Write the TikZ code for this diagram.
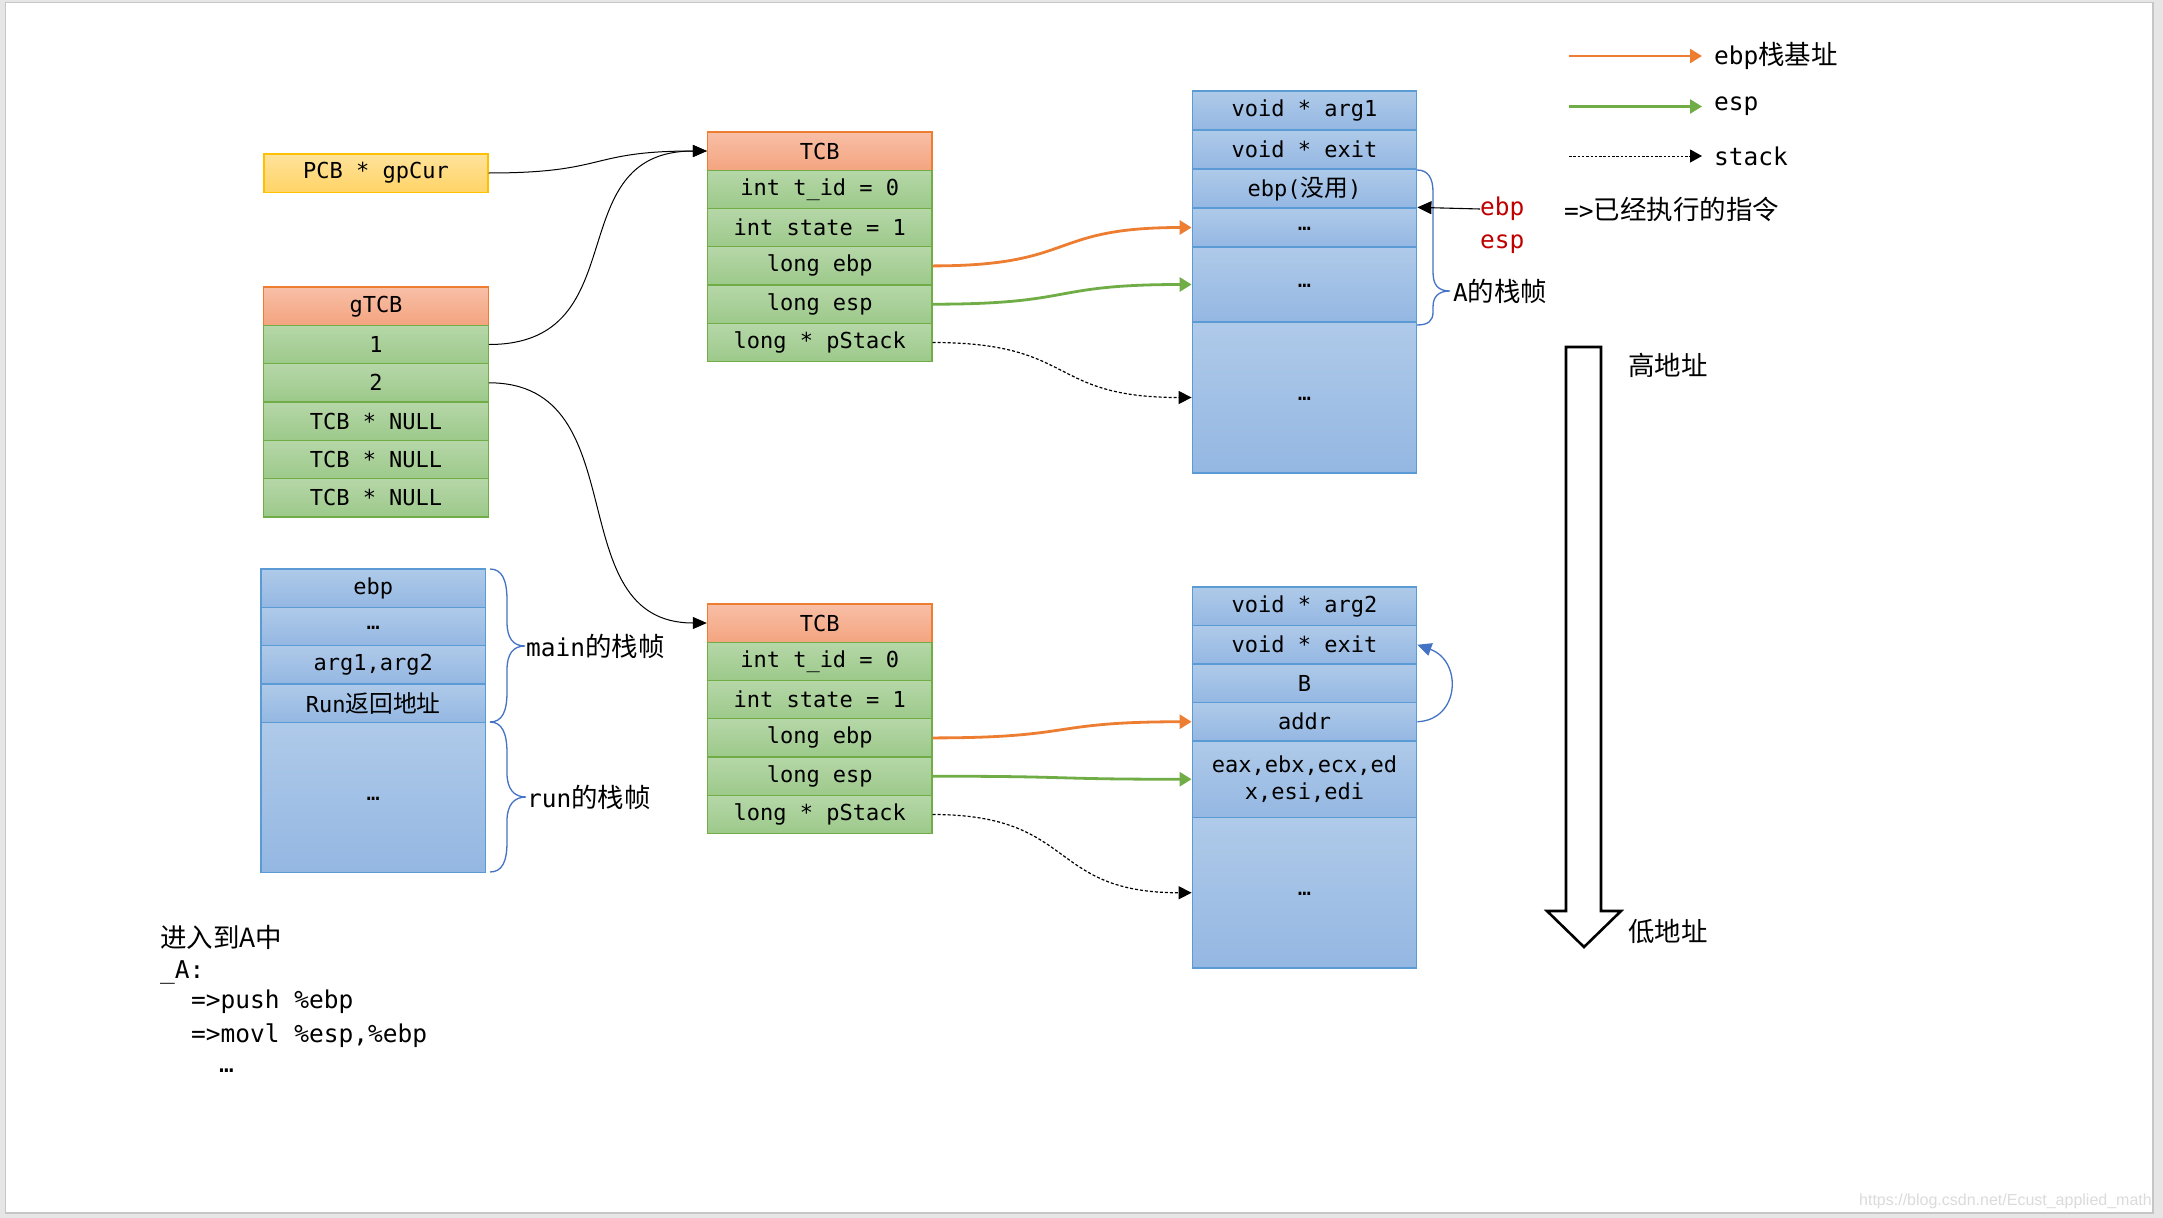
\documentclass[tikz,border=0pt]{standalone}
\usepackage{fontspec}
\setmainfont{DejaVu Sans Mono}
\newfontfamily\cjk[Scale=1.08]{Noto Sans CJK SC}
\newfontfamily\wmfont{Liberation Sans}
\usetikzlibrary{arrows.meta}
\newcommand\lowell{\raisebox{-3pt}[0pt][0pt]{…}}
\definecolor{bggray}{HTML}{E6E6E6}
\definecolor{slideb}{HTML}{C6C6C6}
\definecolor{hdrD}{HTML}{ED7D31}
\definecolor{hdrT}{HTML}{F8BFA7}
\definecolor{hdrB}{HTML}{F4A47F}
\definecolor{grnD}{HTML}{70AD47}
\definecolor{grnT}{HTML}{B6D7A8}
\definecolor{grnB}{HTML}{9CC98A}
\definecolor{bluD}{HTML}{5B9BD5}
\definecolor{bluT}{HTML}{AFCAE9}
\definecolor{bluB}{HTML}{94B7E2}
\definecolor{yelD}{HTML}{FFC000}
\definecolor{yelT}{HTML}{FFE39C}
\definecolor{yelB}{HTML}{FFD466}
\definecolor{redc}{HTML}{C00000}
\definecolor{bracec}{HTML}{4472C4}
\definecolor{orc}{HTML}{ED7D31}
\definecolor{grc}{HTML}{70AD47}
\begin{document}
\begin{tikzpicture}[x=1pt,y=-1pt,
  cellbase/.style={draw, line width=1.3pt, minimum width=224.5pt, minimum height=38.3pt,
    inner sep=0pt, align=center, text=black, font=\fontsize{22}{27}\selectfont},
  hdr/.style={cellbase, draw=hdrD, top color=hdrT, bottom color=hdrB},
  grn/.style={cellbase, draw=grnD, top color=grnT, bottom color=grnB},
  blu/.style={cellbase, draw=bluD, top color=bluT, bottom color=bluB},
  yel/.style={cellbase, draw=yelD, top color=yelT, bottom color=yelB},
  lbl/.style={inner sep=0pt, anchor=west, font=\fontsize{24.5}{29}\selectfont},
  conn/.style={line width=1pt, -{Triangle[length=14pt,width=12pt]}},
  orarrow/.style={draw=orc, line width=2.8pt, -{Triangle[length=12pt,width=14pt]}, color=orc},
  grarrow/.style={draw=grc, line width=2.8pt, -{Triangle[length=12pt,width=14pt]}, color=grc},
  dasharrow/.style={line width=1.2pt, dash pattern=on 3pt off 2pt, -{Triangle[length=13pt,width=13pt]}},
  bracepath/.style={draw=bracec, line width=1.3pt},
]
\useasboundingbox (0,0) rectangle (2163,1218);
\fill[bggray] (0,0) rectangle (2163,1218);
\draw[slideb, line width=1.5pt, fill=white] (5.5,2.5) rectangle (2153,1213);

% PCB
\node[yel, minimum width=224pt] (pcb) at (376,173) {PCB * gpCur};

% gTCB
\node[hdr] (g0) at (376,306.2) {gTCB};
\node[grn] (g1) at (376,344.5) {1};
\node[grn] (g2) at (376,382.8) {2};
\node[grn] (g3) at (376,421.1) {TCB * NULL};
\node[grn] (g4) at (376,459.4) {TCB * NULL};
\node[grn] (g5) at (376,497.7) {TCB * NULL};

% TCB 1
\node[hdr] (t1h) at (819.75,151) {TCB};
\node[grn] (t1a) at (819.75,189.3) {int t\_id = 0};
\node[grn] (t1b) at (819.75,227.6) {int state = 1};
\node[grn] (t1c) at (819.75,265.9) {long ebp};
\node[grn] (t1d) at (819.75,304.2) {long esp};
\node[grn] (t1e) at (819.75,342.5) {long * pStack};

% TCB 2
\node[hdr] (t2h) at (819.75,623) {TCB};
\node[grn] (t2a) at (819.75,661.3) {int t\_id = 0};
\node[grn] (t2b) at (819.75,699.6) {int state = 1};
\node[grn] (t2c) at (819.75,737.9) {long ebp};
\node[grn] (t2d) at (819.75,776.2) {long esp};
\node[grn] (t2e) at (819.75,814.5) {long * pStack};

% Stack 1
\node[blu, minimum height=39pt] (s1a) at (1304.5,110.5) {void * arg1};
\node[blu, minimum height=39pt] (s1b) at (1304.5,149.5) {void * exit};
\node[blu, minimum height=39pt] (s1c) at (1304.5,188.5) {ebp({\cjk 没用})};
\node[blu, minimum height=39pt] (s1d) at (1304.5,227.5) {\lowell};
\node[blu, minimum height=75pt] (s1e) at (1304.5,284.5) {\lowell};
\node[blu, minimum height=151pt] (s1f) at (1304.5,397.5) {\lowell};

% Stack 2
\node[blu, minimum height=38.5pt] (s2a) at (1304.5,606.25) {void * arg2};
\node[blu, minimum height=38.5pt] (s2b) at (1304.5,644.75) {void * exit};
\node[blu, minimum height=38.5pt] (s2c) at (1304.5,683.25) {B};
\node[blu, minimum height=38.5pt] (s2d) at (1304.5,721.75) {addr};
\node[blu, minimum height=76.5pt] (s2e) at (1304.5,779.25) {eax,ebx,ecx,ed\\x,esi,edi};
\node[blu, minimum height=150.5pt] (s2f) at (1304.5,892.75) {\lowell};

% main / run stack
\node[blu] (m1) at (373.3,588.2) {ebp};
\node[blu] (m2) at (373.3,626.5) {\lowell};
\node[blu] (m3) at (373.3,664.8) {arg1,arg2};
\node[blu] (m4) at (373.3,703.1) {Run{\cjk 返回地址}};
\node[blu, minimum height=150pt] (m5) at (373.3,797.3) {\lowell};

% black connectors
\draw[conn] (pcb.east) .. controls +(120,0) and +(-120,0) .. (t1h.west);
\draw[conn] (g1.east) .. controls +(150,0) and +(-150,0) .. (t1h.west);
\draw[conn] (g2.east) .. controls +(150,0) and +(-150,0) .. (t2h.west);

% ebp / esp / stack connectors
\draw[orarrow] (t1c.east) .. controls +(145,0) and +(-145,0) .. (s1d.west);
\draw[grarrow] (t1d.east) .. controls +(145,0) and +(-145,0) .. (s1e.west);
\draw[dasharrow] (t1e.east) .. controls +(145,0) and +(-145,0) .. (s1f.west);
\draw[orarrow] (t2c.east) .. controls +(145,0) and +(-145,0) .. (s2d.west);
\draw[grarrow] (t2d.east) .. controls +(145,0) and +(-145,0) .. (s2e.west);
\draw[dasharrow] (t2e.east) .. controls +(145,0) and +(-145,0) .. (s2f.west);

% blue return arrow
\draw[draw=bracec, line width=1.3pt, -{Triangle[length=14pt,width=13pt]}, color=bracec]
  (s2d.east) .. controls +(43,-2) and +(45,16) .. (s2b.east);

% braces
\draw[bracepath] (1417,170) .. controls (1428,170) and (1433,178) .. (1433,192)
  -- (1433,272) .. controls (1433,285) and (1438,291) .. (1450,291)
  .. controls (1438,291) and (1433,297) .. (1433,307)
  -- (1433,312) .. controls (1433,321) and (1428,325) .. (1417,325);
\node[lbl] (aframe) at (1453,291) {A{\cjk 的栈帧}};

\draw[bracepath] (490,569) .. controls (502,569) and (507,580) .. (507,600)
  -- (507,622) .. controls (507,638) and (513,646) .. (525,646)
  .. controls (513,646) and (507,654) .. (507,670)
  -- (507,692) .. controls (507,712) and (502,722) .. (490,722);
\node[lbl] (mainf) at (526,646) {main{\cjk 的栈帧}};

\draw[bracepath] (490,722) .. controls (502,722) and (507,733) .. (507,753)
  -- (507,773) .. controls (507,789) and (514,797) .. (526,797)
  .. controls (514,797) and (507,805) .. (507,821)
  -- (507,842) .. controls (507,862) and (502,872) .. (490,872);
\node[lbl] (runf) at (527,797) {run{\cjk 的栈帧}};

% ebp / esp red labels
\node[lbl, text=redc] (ebpL) at (1480,209) {ebp};
\node[lbl, text=redc] (espL) at (1480,244) {esp};
\draw[line width=1.1pt, -{Triangle[length=14pt,width=13pt]}] (ebpL.west) -- (s1d.north east);

% legend
\coordinate (lg1) at (1569,56);
\coordinate (lg2) at (1569,106.5);
\coordinate (lg3) at (1569,156);
\node[lbl] (lgt1) at (1714,56) {ebp{\cjk 栈基址}};
\node[lbl] (lgt2) at (1714,106.5) {esp};
\node[lbl] (lgt3) at (1714,156) {stack};
\draw[orarrow, line width=2.5pt, shorten >=12pt] (lg1) -- (lgt1.west);
\draw[grarrow, line width=2.5pt, shorten >=12pt] (lg2) -- (lgt2.west);
\draw[line width=1pt, dash pattern=on 2.5pt off 1.8pt, -{Triangle[length=12pt,width=13pt]}, shorten >=12pt] (lg3) -- (lgt3.west);
\node[lbl] (done) at (1564,209) {=>{\cjk 已经执行的指令}};

% address arrow
\draw[line width=2.6pt, fill=white, line join=miter] (1566,347) -- (1601,347) -- (1601,911) -- (1621,911)
  -- (1584,947) -- (1547,911) -- (1566,911) -- cycle;
\node[lbl] (hiaddr) at (1628,365) {\cjk 高地址};
\node[lbl] (loaddr) at (1628,931) {\cjk 低地址};

% code block
\node[lbl] (c1) at (160,937) {\cjk 进入到A中};
\node[lbl] (c2) at (160,972) {\_A:};
\node[lbl] (c3) at (191,1002) {=>push \%ebp};
\node[lbl] (c4) at (191,1036) {=>movl \%esp,\%ebp};
\node[lbl] (c5) at (219,1071) {…};

% watermark
\node[inner sep=0pt, anchor=east, text=black!14, font=\wmfont\fontsize{16}{18}\selectfont] (wm) at (2152,1201) {https://blog.csdn.net/Ecust\_applied\_math};
\end{tikzpicture}
\end{document}
